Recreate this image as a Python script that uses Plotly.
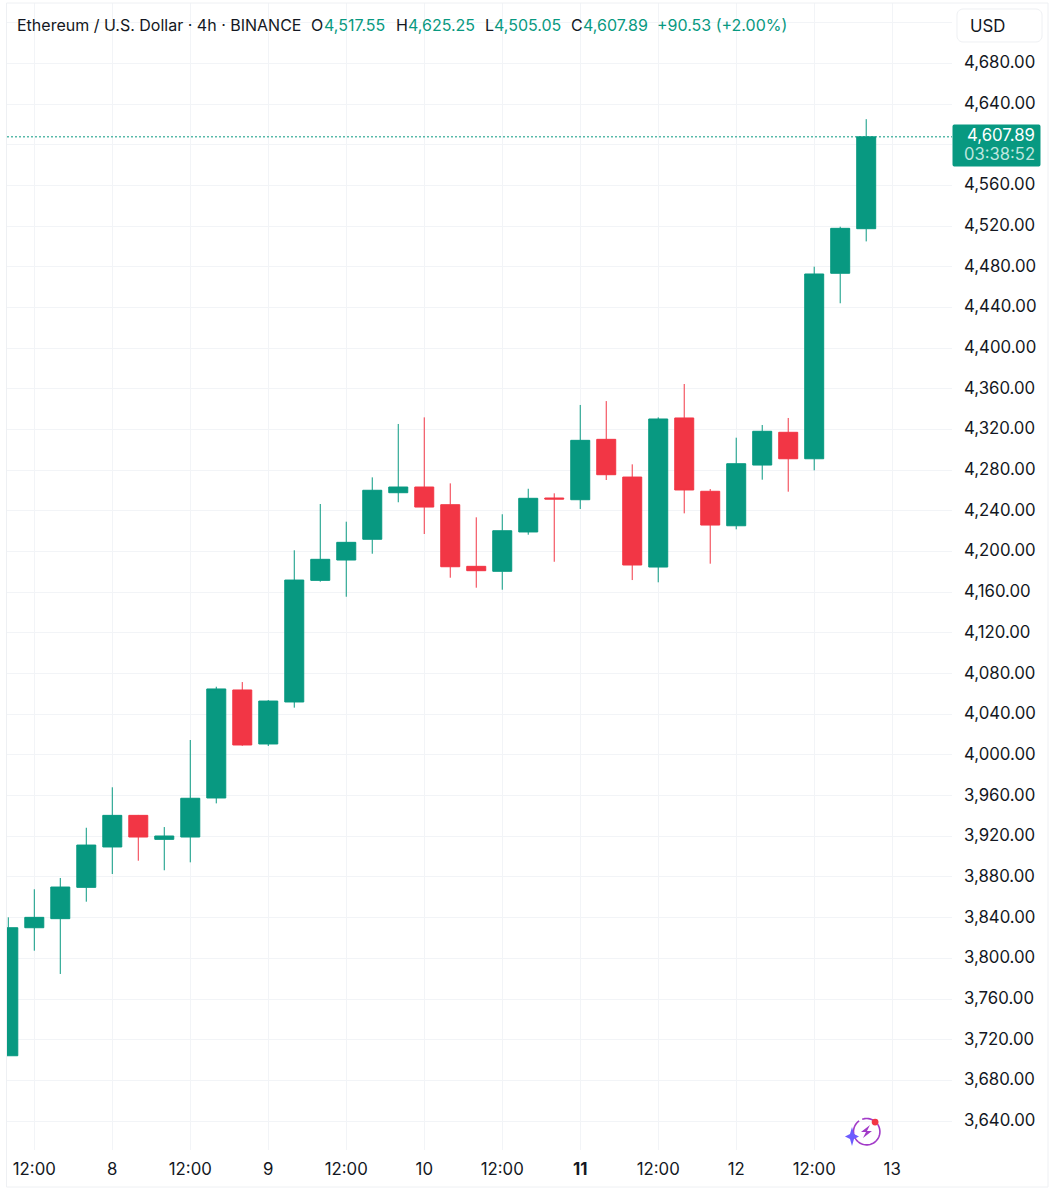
import numpy as np
import plotly.graph_objects as go

# ---- data ----
candle_index = list(range(34))
open_ = [3704.2,3830.1,3839.0,3869.8,3909.5,3940.6,3917.0,3919.3,3957.7,4063.9,4010.8,4052.1,4171.7,4191.7,4212.1,4257.9,4263.5,4246.1,4185.5,4180.6,4219.3,4252.7,4251.0,4310.4,4273.3,4184.8,4331.4,4259.3,4225.4,4285.1,4317.3,4291.3,4473.7,4517.55]
high_ = [3840.3,3867.9,3879.0,3928.4,3968.2,3941.0,3929.1,4014.7,4067.1,4071.7,4054.0,4201.3,4246.8,4229.4,4273.0,4325.5,4332.0,4267.1,4233.7,4236.7,4261.8,4257.3,4344.2,4348.0,4285.8,4332.0,4364.8,4261.5,4312.0,4324.5,4331.4,4480.2,4519.5,4625.25]
low_ = [3704.2,3807.5,3784.6,3855.7,3882.9,3896.0,3886.6,3894.4,3952.4,4009.0,4008.8,4046.5,4170.4,4155.6,4197.9,4248.5,4217.3,4174.3,4164.5,4162.5,4216.6,4190.0,4241.9,4270.4,4172.0,4169.8,4237.6,4188.1,4221.9,4270.7,4258.9,4279.9,4444.2,4505.05]
close_ = [3830.1,3840.3,3870.1,3911.4,3940.6,3919.3,3920.3,3957.4,4064.9,4009.8,4053.0,4172.0,4192.4,4209.1,4260.3,4263.5,4243.8,4185.1,4181.2,4220.5,4252.4,4251.7,4309.4,4275.6,4186.8,4330.4,4260.6,4226.1,4286.4,4318.3,4291.3,4473.0,4517.9,4607.89]

x_tick_vals = [1,4,7,10,13,16,19,22,25,28,31,34]
x_tick_text = ["12:00","8","12:00","9","12:00","10","12:00","<b>11</b>","12:00","12","12:00","13"]
y_tick_vals = list(range(3640, 4721, 40))
y_tick_text = ["" if v in (4600, 4720) else f"{v:,.2f}" for v in y_tick_vals]

title_text = "Ethereum / U.S. Dollar · 4h · BINANCE"
countdown = "03:38:52"
change_text = "+90.53 (+2.00%)"
currency = "USD"

# ---- style ----
W, H = 1058, 1200
L, R, T, B = 7, 952, 3, 1150
UP, DOWN = "#089981", "#F23645"
INK, GRID, EDGE = "#131722", "#F2F4F7", "#EEF0F3"
FONT = "Inter"
FS = 16
AXIS_FS = 16.8

def px(x): return (x - L) / (R - L)
def py(y): return (B - y) / (B - T)

def path(points, close=False):
    s = "M" + " L".join(f"{px(a):.5f},{py(b):.5f}" for a, b in points)
    return s + (" Z" if close else "")

def rounded(x0, y0, x1, y1, r):
    a = np.linspace(0, np.pi / 2, 6)
    pts = []
    for cx, cy, start in [(x1 - r, y0 + r, -np.pi / 2), (x1 - r, y1 - r, 0),
                          (x0 + r, y1 - r, np.pi / 2), (x0 + r, y0 + r, np.pi)]:
        pts += [(cx + r * np.cos(start + t), cy + r * np.sin(start + t)) for t in a]
    return path(pts, True)

fig = go.Figure(go.Candlestick(
    x=candle_index, open=open_, high=high_, low=low_, close=close_,
    increasing=dict(line=dict(color=UP, width=1), fillcolor=UP),
    decreasing=dict(line=dict(color=DOWN, width=1), fillcolor=DOWN),
    whiskerwidth=0, hoverinfo="skip", showlegend=False,
))

shapes = [
    # last price line
    dict(type="line", xref="paper", x0=0, x1=1, yref="y", y0=close_[-1], y1=close_[-1],
         line=dict(color=UP, width=1, dash="2px,2px")),
    # outer frame
    dict(type="rect", xref="paper", yref="paper", x0=px(6.5), x1=px(1048), y0=py(3), y1=py(1187),
         line=dict(color=EDGE, width=1)),
    # currency button
    dict(type="path", xref="paper", yref="paper", path=rounded(957, 9, 1042, 42, 6),
         line=dict(color=EDGE, width=1), fillcolor="white"),
    # last price tag
    dict(type="path", xref="paper", yref="paper", path=rounded(952.5, 124.5, 1040.5, 166.5, 2),
         line=dict(width=0), fillcolor=UP),
]

# logo icon
th = np.linspace(np.radians(-35), np.radians(235), 50)
arc = [(866.7 + 13.2 * np.cos(t), 1131.7 + 13.2 * np.sin(t)) for t in th]
th2 = np.linspace(np.radians(250), np.radians(300), 10)
arc2 = [(866.7 + 13.2 * np.cos(t), 1131.7 + 13.2 * np.sin(t)) for t in th2]
shapes += [
    dict(type="path", xref="paper", yref="paper", path=path(arc), line=dict(color="#A23BC8", width=1.6)),
    dict(type="path", xref="paper", yref="paper", path=path(arc2), line=dict(color="#A23BC8", width=1.6)),
    dict(type="path", xref="paper", yref="paper",
         path=path([(870, 1125), (861, 1132), (866, 1132), (863, 1138), (872, 1131), (867, 1131)], True),
         line=dict(width=0), fillcolor="#A23BC8"),
    dict(type="path", xref="paper", yref="paper",
         path=path([(852, 1127), (854, 1134), (859, 1136.5), (854, 1139), (852, 1146),
                    (850, 1139), (845, 1136.5), (850, 1134)], True),
         line=dict(width=0), fillcolor="#6C5CFF"),
    dict(type="circle", xref="paper", yref="paper", x0=px(871.7), x1=px(878.5), y0=py(1125.5), y1=py(1118.7),
         line=dict(width=0), fillcolor="#F23645"),
]

def label(x, y, text, color=INK, size=FS, anchor="left"):
    return dict(xref="paper", yref="paper", x=px(x), y=py(y), text=text, showarrow=False,
                xanchor=anchor, yanchor="middle", align=anchor,
                font=dict(family=FONT, size=size, color=color), borderpad=0, borderwidth=0)

annotations = [
    label(17, 25, title_text),
    label(311, 25, "O"), label(324, 25, f"{open_[-1]:,.2f}", UP),
    label(396, 25, "H"), label(408, 25, f"{high_[-1]:,.2f}", UP),
    label(485, 25, "L"), label(494, 25, f"{low_[-1]:,.2f}", UP),
    label(571, 25, "C"), label(583, 25, f"{close_[-1]:,.2f}", UP),
    label(657, 25, change_text, UP),
    label(970, 26, currency, size=AXIS_FS),
    label(1034.5, 134.7, f"{close_[-1]:,.2f}", "#FFFFFF", size=AXIS_FS, anchor="right"),
    label(1034.5, 153.7, countdown, "#BFE6DF", size=16.6, anchor="right"),
]

fig.update_layout(
    width=W, height=H, autosize=False,
    margin=dict(l=L, r=W - R, t=T, b=H - B, pad=0),
    paper_bgcolor="white", plot_bgcolor="white",
    boxgap=0.27, boxgroupgap=0, showlegend=False, hovermode=False,
    shapes=shapes, annotations=annotations,
    font=dict(family=FONT, size=FS, color=INK),
    xaxis=dict(range=[-0.05, 36.3], tickmode="array", tickvals=x_tick_vals, ticktext=x_tick_text,
               rangeslider=dict(visible=False), showgrid=True, gridcolor=GRID, gridwidth=1,
               zeroline=False, showline=False, ticks="", ticklabelstandoff=7,
               tickangle=0, tickfont=dict(family=FONT, size=AXIS_FS, color=INK), automargin=False),
    yaxis=dict(range=[3611.5, 4739.5], side="right", tickmode="array", tickvals=y_tick_vals, ticktext=y_tick_text,
               showgrid=True, gridcolor=GRID, gridwidth=1, zeroline=False, showline=False, ticks="",
               ticklabelstandoff=11, ticklabelshift=-1,
               tickfont=dict(family=FONT, size=AXIS_FS, color=INK), automargin=False),
)

fig.write_html("out.html", config={"displayModeBar": False},
               post_script="document.body.style.margin='0';document.body.style.overflow='hidden';")
